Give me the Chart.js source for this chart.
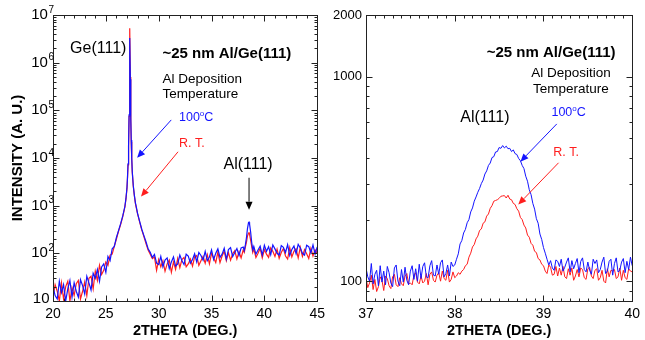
<!DOCTYPE html>
<html>
<head>
<meta charset="utf-8">
<script src="https://cdn.jsdelivr.net/npm/chart.js@4.4.1/dist/chart.umd.min.js"></script>
<style>
  html, body { margin: 0; padding: 0; background: #fff; }
  #wrap { position: relative; width: 645px; height: 340px; }
  #left { position: absolute; left: 0; top: 0; }
  #right { position: absolute; left: 330px; top: 0; }
</style>
</head>
<body>
<div id="wrap">
  <canvas id="left" width="330" height="340"></canvas>
  <canvas id="right" width="315" height="340"></canvas>
</div>
<script>
const FONT = "'Liberation Sans', Arial, sans-serif";
const BLUE = '#1414ff';
const RED = '#ff1e1e';

// ---- left panel: wide 2theta scan ----
const tthL = [
  20.0, 20.2, 20.4, 20.6, 20.8, 21.0, 21.2, 21.4, 21.6, 21.8,
  22.0, 22.2, 22.4, 22.6, 22.8, 23.0, 23.2, 23.4, 23.6, 23.8,
  24.0, 24.2, 24.4, 24.6, 24.8, 25.0, 25.2, 25.4, 25.6, 25.8,
  26.0, 26.2, 26.4, 26.6, 26.8, 26.9, 27.0, 27.05, 27.1, 27.15,
  27.2, 27.24, 27.28, 27.32, 27.36, 27.4, 27.45, 27.5, 27.6, 27.7,
  27.8, 27.9, 28.0, 28.2, 28.4, 28.6, 28.8, 29.0, 29.2, 29.4,
  29.6, 29.8, 30.0, 30.2, 30.4, 30.6, 30.8, 31.0, 31.2, 31.4,
  31.6, 31.8, 32.0, 32.2, 32.4, 32.6, 32.8, 33.0, 33.2, 33.4,
  33.6, 33.8, 34.0, 34.2, 34.4, 34.6, 34.8, 35.0, 35.2, 35.4,
  35.6, 35.8, 36.0, 36.2, 36.4, 36.6, 36.8, 37.0, 37.2, 37.4,
  37.6, 37.8, 38.0, 38.1, 38.2, 38.3, 38.4, 38.5, 38.55, 38.6,
  38.7, 38.8, 38.9, 39.0, 39.2, 39.4, 39.6, 39.8, 40.0, 40.2,
  40.4, 40.6, 40.8, 41.0, 41.2, 41.4, 41.6, 41.8, 42.0, 42.2,
  42.4, 42.6, 42.8, 43.0, 43.2, 43.4, 43.6, 43.8, 44.0, 44.2,
  44.4, 44.6, 44.8, 45.0
];
// 100°C deposition
const hotL = [
  20, 13, 11, 26, 15, 22, 10, 18, 27, 12,
  24, 16, 12, 28, 21, 14, 33, 24, 17, 38,
  30, 46, 26, 52, 60, 40, 86, 70, 124, 140,
  215, 300, 420, 610, 960, 1400, 2400, 4000, 7500, 18000,
  80000, 600000, 3300000, 450000, 70000, 24000, 10000, 5200, 2600, 1650,
  1150, 900, 690, 470, 320, 235, 175, 125, 105, 82,
  95, 62, 58, 86, 52, 72, 80, 48, 66, 84,
  54, 60, 92, 70, 58, 96, 88, 62, 74, 98,
  66, 104, 90, 72, 110, 70, 84, 118, 74, 100,
  124, 82, 96, 128, 76, 120, 132, 86, 104, 126,
  90, 130, 136, 115, 150, 210, 330, 440, 450, 410,
  280, 170, 118, 140, 96, 118, 142, 92, 148, 110,
  138, 94, 150, 124, 100, 92, 146, 134, 104, 152,
  90, 120, 142, 98, 155, 130, 100, 92, 148, 138,
  102, 150, 96, 136
];
// room temperature deposition
const rtL = [
  12, 22, 16, 10, 24, 11, 20, 26, 10, 19,
  13, 23, 27, 11, 16, 25, 13, 30, 33, 18,
  42, 27, 56, 36, 44, 66, 56, 92, 96, 140,
  200, 290, 400, 590, 930, 1350, 2300, 3800, 7200, 17000,
  75000, 700000, 5300000, 500000, 65000, 22000, 9500, 5000, 2500, 1600,
  1100, 860, 680, 450, 310, 225, 160, 118, 96, 78,
  84, 44, 74, 52, 70, 42, 60, 72, 40, 66,
  46, 78, 50, 74, 82, 52, 60, 76, 54, 84,
  90, 56, 70, 86, 62, 94, 60, 100, 80, 64,
  106, 64, 88, 110, 70, 104, 72, 98, 114, 76,
  108, 80, 118, 105, 135, 170, 230, 265, 270, 250,
  190, 140, 105, 124, 82, 100, 128, 80, 120, 96,
  82, 130, 110, 86, 122, 78, 104, 126, 88, 76,
  132, 84, 110, 124, 80, 134, 86, 120, 98, 78,
  128, 88, 118, 100
];
const xTicksL = [20, 25, 30, 35, 40, 45];
const yExpL = [1, 2, 3, 4, 5, 6, 7];

// ---- right panel: Al(111) region ----
const tthR = [
  37.00, 37.02, 37.04, 37.06, 37.08, 37.10, 37.12, 37.14, 37.16, 37.18,
  37.20, 37.22, 37.24, 37.26, 37.28, 37.30, 37.32, 37.34, 37.36, 37.38,
  37.40, 37.42, 37.44, 37.46, 37.48, 37.50, 37.52, 37.54, 37.56, 37.58,
  37.60, 37.62, 37.64, 37.66, 37.68, 37.70, 37.72, 37.74, 37.76, 37.78,
  37.80, 37.82, 37.84, 37.86, 37.88, 37.90, 37.92, 37.94, 37.96, 37.98,
  38.00, 38.02, 38.04, 38.06, 38.08, 38.10, 38.12, 38.14, 38.16, 38.18,
  38.20, 38.22, 38.24, 38.26, 38.28, 38.30, 38.32, 38.34, 38.36, 38.38,
  38.40, 38.42, 38.44, 38.46, 38.48, 38.50, 38.52, 38.54, 38.56, 38.58,
  38.60, 38.62, 38.64, 38.66, 38.68, 38.70, 38.72, 38.74, 38.76, 38.78,
  38.80, 38.82, 38.84, 38.86, 38.88, 38.90, 38.92, 38.94, 38.96, 38.98,
  39.00, 39.02, 39.04, 39.06, 39.08, 39.10, 39.12, 39.14, 39.16, 39.18,
  39.20, 39.22, 39.24, 39.26, 39.28, 39.30, 39.32, 39.34, 39.36, 39.38,
  39.40, 39.42, 39.44, 39.46, 39.48, 39.50, 39.52, 39.54, 39.56, 39.58,
  39.60, 39.62, 39.64, 39.66, 39.68, 39.70, 39.72, 39.74, 39.76, 39.78,
  39.80, 39.82, 39.84, 39.86, 39.88, 39.90, 39.92, 39.94, 39.96, 39.98,
  40.00
];
const hotR = [
  116, 105, 100, 122, 97, 108, 113, 95, 119, 99,
  112, 96, 118, 110, 98, 94, 116, 120, 100, 95,
  114, 99, 117, 101, 96, 112, 119, 102, 115, 100,
  121, 103, 118, 123, 105, 104, 119, 126, 107, 106,
  120, 108, 123, 127, 105, 109, 120, 106, 124, 118,
  120, 128, 136, 152, 158, 172, 179, 193, 200, 218,
  228, 246, 258, 272, 284, 300, 312, 334, 346, 368,
  378, 402, 406, 428, 430, 450, 446, 460, 448, 457,
  444, 446, 430, 438, 420, 416, 398, 388, 368, 355,
  326, 308, 280, 265, 240, 225, 202, 192, 170, 160,
  146, 137, 128, 120, 126, 116, 113, 127, 125, 118,
  128, 112, 117, 124, 130, 111, 126, 115, 122, 129,
  110, 125, 130, 114, 111, 124, 113, 108, 128, 122,
  127, 110, 114, 124, 131, 109, 112, 125, 128, 107,
  122, 130, 111, 113, 124, 129, 110, 125, 114, 131,
  119
];
const rtR = [
  104, 93, 98, 107, 91, 102, 89, 94, 105, 101,
  90, 106, 103, 95, 92, 105, 108, 96, 94, 104,
  97, 95, 106, 109, 97, 98, 96, 107, 110, 99,
  97, 106, 98, 100, 109, 96, 108, 111, 101, 99,
  107, 110, 100, 112, 103, 101, 113, 99, 102, 111,
  104, 106, 110, 108, 112, 114, 119, 121, 131, 137,
  147, 151, 161, 166, 177, 180, 192, 195, 208, 213,
  227, 234, 246, 248, 250, 254, 260, 261, 262, 255,
  263, 252, 250, 240, 237, 226, 220, 205, 200, 188,
  182, 168, 164, 153, 150, 140, 138, 129, 127, 121,
  119, 112, 109, 120, 117, 107, 108, 118, 106, 116,
  107, 118, 105, 103, 115, 107, 116, 101, 106, 114,
  105, 116, 114, 104, 102, 115, 117, 106, 103, 113,
  115, 101, 104, 113, 100, 98, 115, 105, 113, 112,
  114, 103, 105, 116, 101, 113, 104, 102, 115, 112,
  111
];
const xTicksR = [37, 38, 39, 40];
const yTicksR = [100, 1000, 2000];

function pts(xs, ys) {
  return xs.map((x, i) => ({ x: x, y: ys[i] }));
}

// box, inward ticks, annotations
const framePlugin = {
  id: 'frame',
  afterDraw(chart, args, opts) {
    const { ctx, chartArea: a, scales: { x, y } } = chart;
    const L = Math.round(a.left) + 0.5, R = Math.round(a.right) + 0.5;
    const T = Math.round(a.top) + 0.5, B = Math.round(a.bottom) + 0.5;
    ctx.save();
    ctx.strokeStyle = '#222';
    ctx.lineWidth = 1;
    ctx.strokeRect(L, T, R - L, B - T);

    ctx.beginPath();
    const n = Math.round((x.max - x.min) / opts.xMinor);
    for (let i = 0; i <= n; i++) {
      const v = x.min + i * opts.xMinor;
      const r = v / opts.xMajor;
      const len = Math.abs(r - Math.round(r)) < 1e-6 ? 6 : 3;
      const px = Math.round(x.getPixelForValue(v)) + 0.5;
      ctx.moveTo(px, B); ctx.lineTo(px, B - len);
      ctx.moveTo(px, T); ctx.lineTo(px, T + len);
    }
    for (let d = Math.floor(Math.log10(y.min)); d <= Math.ceil(Math.log10(y.max)); d++) {
      for (let m = 1; m <= 9; m++) {
        const v = m * Math.pow(10, d);
        if (v < y.min * 0.999 || v > y.max * 1.001) continue;
        const len = m === 1 ? 6 : 3;
        const py = Math.round(y.getPixelForValue(v)) + 0.5;
        ctx.moveTo(L, py); ctx.lineTo(L + len, py);
        ctx.moveTo(R, py); ctx.lineTo(R - len, py);
      }
    }
    ctx.stroke();

    // power-of-ten labels on the wide scan
    if (opts.powLabels) {
      ctx.fillStyle = '#000';
      ctx.textBaseline = 'middle';
      opts.powLabels.forEach(e => {
        let py = y.getPixelForValue(Math.pow(10, e));
        if (py > B - 3) py = B - 3;
        if (e === 1) {
          ctx.font = '15px ' + FONT;
          ctx.textAlign = 'right';
          ctx.fillText('10', L - 4, py);
        } else {
          ctx.font = '10px ' + FONT;
          ctx.textAlign = 'right';
          const sw = ctx.measureText(String(e)).width;
          ctx.fillText(String(e), L + 0.5, py - 5);
          ctx.font = '15px ' + FONT;
          ctx.fillText('10', L - sw, py);
        }
      });
    }

    (opts.notes || []).forEach(nt => {
      const px = x.getPixelForValue(nt.x), py = y.getPixelForValue(nt.y);
      ctx.textBaseline = 'middle';
      if (nt.arrow) {
        const qx = x.getPixelForValue(nt.x2), qy = y.getPixelForValue(nt.y2);
        const ang = Math.atan2(qy - py, qx - px);
        const hl = 8, hw = 3.5;
        ctx.strokeStyle = nt.color; ctx.fillStyle = nt.color; ctx.lineWidth = 1;
        ctx.beginPath();
        ctx.moveTo(px, py);
        ctx.lineTo(qx - hl * Math.cos(ang), qy - hl * Math.sin(ang));
        ctx.stroke();
        ctx.beginPath();
        ctx.moveTo(qx, qy);
        ctx.lineTo(qx - hl * Math.cos(ang) + hw * Math.sin(ang), qy - hl * Math.sin(ang) - hw * Math.cos(ang));
        ctx.lineTo(qx - hl * Math.cos(ang) - hw * Math.sin(ang), qy - hl * Math.sin(ang) + hw * Math.cos(ang));
        ctx.closePath();
        ctx.fill();
        return;
      }
      ctx.fillStyle = nt.color || '#000';
      ctx.font = (nt.bold ? 'bold ' : '') + nt.size + 'px ' + FONT;
      ctx.textAlign = nt.align || 'left';
      if (nt.sup) {
        // "100" + raised "o" + "C"
        ctx.textAlign = 'left';
        let cx = px;
        ctx.fillText(nt.text, cx, py);
        cx += ctx.measureText(nt.text).width;
        ctx.font = Math.round(nt.size * 0.65) + 'px ' + FONT;
        ctx.fillText(nt.sup, cx, py - 4);
        cx += ctx.measureText(nt.sup).width;
        ctx.font = nt.size + 'px ' + FONT;
        ctx.fillText(nt.after, cx, py);
      } else {
        ctx.fillText(nt.text, px, py);
      }
    });
    ctx.restore();
  }
};

function xScale(min, max, ticks, height) {
  return {
    type: 'linear', min: min, max: max,
    afterBuildTicks: s => { s.ticks = ticks.map(v => ({ value: v })); },
    afterFit: s => { s.height = height; },
    grid: { display: false, drawTicks: false },
    border: { display: false },
    ticks: { color: '#000', font: { family: FONT, size: 14 }, padding: 5, maxRotation: 0, autoSkip: false, callback: v => String(v) },
    title: { display: true, text: '2THETA (DEG.)', color: '#000', font: { family: FONT, size: 14.5, weight: 'bold' }, padding: { top: 0, bottom: 0 } }
  };
}

function lineSets(hotX, hotY, rtX, rtY, w) {
  return [
    { label: '100°C', data: pts(hotX, hotY), borderColor: BLUE, borderWidth: w, pointRadius: 0, tension: 0 },
    { label: 'R. T.', data: pts(rtX, rtY), borderColor: RED, borderWidth: w, pointRadius: 0, tension: 0 }
  ];
}

new Chart(document.getElementById('left'), {
  type: 'line',
  data: { datasets: lineSets(tthL, hotL, tthL, rtL, 1.2) },
  options: {
    responsive: false, animation: false,
    layout: { padding: { top: 15, right: 5, left: 0, bottom: 0 } },
    plugins: {
      legend: { display: false }, tooltip: { enabled: false },
      frame: {
        xMinor: 1, xMajor: 5, powLabels: yExpL,
        notes: [
          { x: 24.28, y: 1.94e6, text: 'Ge(111)', size: 16, align: 'center' },
          { x: 30.36, y: 1.52e6, text: '~25 nm Al/Ge(111)', size: 15, bold: true },
          { x: 30.36, y: 4.57e5, text: 'Al Deposition', size: 13.5 },
          { x: 30.36, y: 2.21e5, text: 'Temperature', size: 13.5 },
          { x: 31.92, y: 6.97e4, text: '100', sup: 'o', after: 'C', size: 12.5, color: BLUE },
          { x: 31.92, y: 2.0e4, text: 'R. T.', size: 12.5, color: RED },
          { arrow: true, x: 31.19, y: 6.3e4, x2: 27.96, y2: 1.01e4, color: BLUE },
          { arrow: true, x: 31.83, y: 1.35e4, x2: 28.33, y2: 1550, color: RED },
          { x: 38.46, y: 7240, text: 'Al(111)', size: 16, align: 'center' },
          { arrow: true, x: 38.55, y: 3850, x2: 38.55, y2: 824, color: '#000' }
        ]
      }
    },
    scales: {
      x: xScale(20, 45, xTicksL, 39),
      y: {
        type: 'logarithmic', min: 10, max: 1e7,
        afterFit: s => { s.width = 53; },
        grid: { display: false, drawTicks: false },
        border: { display: false },
        ticks: { display: false },
        title: { display: true, text: 'INTENSITY (A. U.)', color: '#000', font: { family: FONT, size: 15, weight: 'bold' }, padding: { top: 9, bottom: 0 } }
      }
    }
  },
  plugins: [framePlugin]
});

new Chart(document.getElementById('right'), {
  type: 'line',
  data: { datasets: lineSets(tthR, hotR, tthR, rtR, 1) },
  options: {
    responsive: false, animation: false,
    layout: { padding: { top: 15, right: 8, left: 0, bottom: 0 } },
    plugins: {
      legend: { display: false }, tooltip: { enabled: false },
      frame: {
        xMinor: 0.1, xMajor: 1,
        notes: [
          { x: 38.36, y: 1306, text: '~25 nm Al/Ge(111)', size: 15, bold: true },
          { x: 39.31, y: 1042, text: 'Al Deposition', size: 13.5, align: 'center' },
          { x: 39.31, y: 871, text: 'Temperature', size: 13.5, align: 'center' },
          { x: 38.34, y: 631, text: 'Al(111)', size: 16, align: 'center' },
          { x: 39.09, y: 665, text: '100', sup: 'o', after: 'C', size: 12.5, color: BLUE },
          { arrow: true, x: 39.15, y: 587, x2: 38.74, y2: 384, color: BLUE },
          { x: 39.11, y: 425, text: 'R. T.', size: 12.5, color: RED },
          { arrow: true, x: 39.17, y: 379, x2: 38.716, y2: 237, color: RED }
        ]
      }
    },
    scales: {
      x: xScale(37, 40, xTicksR, 39),
      y: {
        type: 'logarithmic', min: 80, max: 2000,
        afterBuildTicks: s => { s.ticks = yTicksR.map(v => ({ value: v })); },
        afterFit: s => { s.width = 36; },
        grid: { display: false, drawTicks: false },
        border: { display: false },
        ticks: { color: '#000', font: { family: FONT, size: 13 }, padding: 4, callback: v => String(v) }
      }
    }
  },
  plugins: [framePlugin]
});
</script>
</body>
</html>
